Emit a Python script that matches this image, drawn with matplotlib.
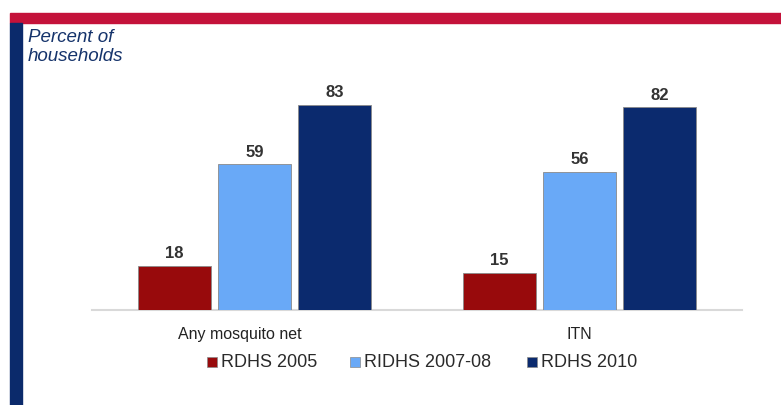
import numpy as np
import matplotlib.pyplot as plt
from matplotlib.patches import Rectangle
from matplotlib.lines import Line2D

plt.rcParams['font.family'] = ['Liberation Sans', 'DejaVu Sans']

# Household ownership of mosquito nets
categories = ["Any mosquito net", "ITN"]
series = ["RDHS 2005", "RIDHS 2007-08", "RDHS 2010"]
rdhs_2005 = [18, 15]
ridhs_2007 = [59, 56]
rdhs_2010 = [83, 82]
colors = ["#980a0c", "#69a9f7", "#0b2a6e"]

W, H = 781, 406
fig = plt.figure(figsize=(W / 100, H / 100), dpi=100)

# frame: red band on top, navy strip down the left side
fig.patches.append(Rectangle((10 / W, 1 - 24 / H), 1 - 10 / W, 10 / H,
                             transform=fig.transFigure, color="#c4123a", zorder=0))
fig.patches.append(Rectangle((10 / W, 0), 12 / W, 1 - 24 / H,
                             transform=fig.transFigure, color="#0b2a6b", zorder=0))

# axes placed in pixel terms: x 92..742, baseline at y=311
ax = fig.add_axes([92 / W, 1 - 311 / H, 650 / W, 247 / H])
ax.set_xlim(-0.5, 1.5)
ax.set_ylim(0, 100)

x = np.arange(len(categories))
width = 0.224
offset = 0.246
for i, (vals, col) in enumerate(zip([rdhs_2005, ridhs_2007, rdhs_2010], colors)):
    pos = x + (i - 1) * offset
    bars = ax.bar(pos, vals, width, color=col, edgecolor="#8a8a8a", linewidth=0.6,
                  label=series[i], zorder=3)
    for b, v in zip(bars, vals):
        ax.text(b.get_x() + b.get_width() / 2, v + 5.3, str(v), ha="center", va="center",
                fontsize=12, fontweight="bold", color="#333333")

for s in ["top", "right", "left"]:
    ax.spines[s].set_visible(False)
ax.spines["bottom"].set_color("#d9d9d9")
ax.spines["bottom"].set_linewidth(1.5)
ax.set_yticks([])
ax.set_xticks([])

# category names under each group
label_x = [x[0] - 0.045, x[1]]
for lx, name in zip(label_x, categories):
    ax.text(lx, -9.5, name, ha="center", va="center", fontsize=11.5, color="#222222",
            clip_on=False)

# legend row
leg_y = 1 - 363 / H
leg_x = [212, 355, 532]
for lx, name, col in zip(leg_x, series, colors):
    fig.add_artist(Line2D([lx / W], [leg_y], marker="s", linestyle="", markersize=7,
                          markerfacecolor=col, markeredgecolor="#8a8a8a",
                          markeredgewidth=0.5, transform=fig.transFigure))
    fig.text((lx + 9) / W, leg_y, name, ha="left", va="center", fontsize=13,
             color="#2a2a2a")

fig.text(28 / W, 1 - 47 / H, "Percent of\nhouseholds", ha="left", va="center",
         fontsize=13.5, style="italic", color="#15336b", linespacing=1.1)

fig.savefig("out.png", dpi=100)
